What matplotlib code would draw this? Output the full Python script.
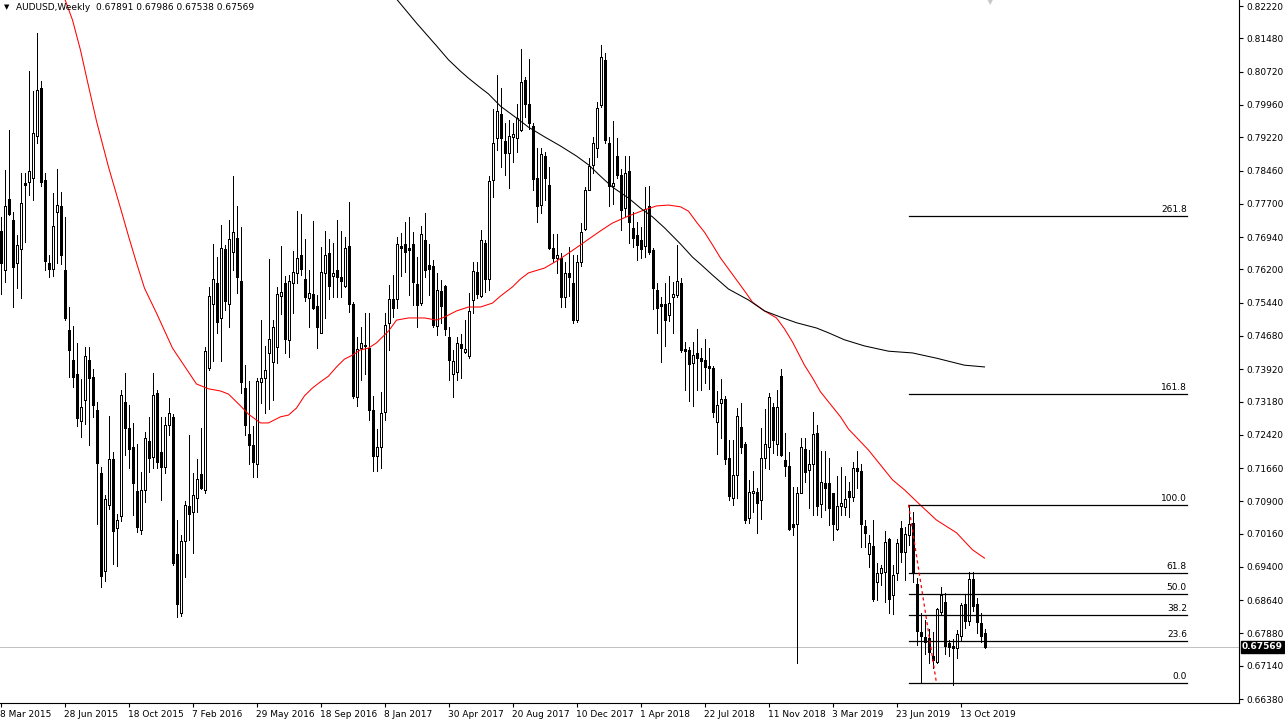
import numpy as np
import pandas as pd
import matplotlib
matplotlib.use("Agg")
import matplotlib.pyplot as plt
from matplotlib.patches import Rectangle
import matplotlib.transforms as mtransforms

# ---------------- data ----------------
start_date = "2015-03-08"
n_bars = 247

opens = [
    0.7707, 0.7619, 0.7780, 0.7734, 0.7635, 0.7666, 0.7818, 0.7820, 0.7830, 0.7925,
    0.8035, 0.7824, 0.7635, 0.7621, 0.7752, 0.7764, 0.7619, 0.7482, 0.7413, 0.7382,
    0.7274, 0.7322, 0.7413, 0.7375, 0.7299, 0.7154, 0.6930, 0.7081, 0.7186, 0.7030,
    0.7056, 0.7317, 0.7257, 0.7213, 0.7113, 0.7024, 0.7116, 0.7228, 0.7192, 0.7337,
    0.7202, 0.7168, 0.7264, 0.7282, 0.6969, 0.6834, 0.6999, 0.7080, 0.7066, 0.7097,
    0.7152, 0.7116, 0.7394, 0.7542, 0.7590, 0.7508, 0.7666, 0.7542, 0.7660, 0.7691,
    0.7593, 0.7350, 0.7244, 0.7219, 0.7175, 0.7363, 0.7371, 0.7430, 0.7409, 0.7443,
    0.7560, 0.7590, 0.7458, 0.7590, 0.7611, 0.7652, 0.7597, 0.7555, 0.7563, 0.7536,
    0.7475, 0.7611, 0.7657, 0.7605, 0.7619, 0.7603, 0.7582, 0.7673, 0.7540, 0.7328,
    0.7440, 0.7447, 0.7440, 0.7299, 0.7193, 0.7213, 0.7295, 0.7498, 0.7553, 0.7552,
    0.7673, 0.7678, 0.7668, 0.7678, 0.7587, 0.7543, 0.7687, 0.7630, 0.7628, 0.7491,
    0.7571, 0.7582, 0.7466, 0.7382, 0.7386, 0.7450, 0.7432, 0.7421, 0.7550, 0.7615,
    0.7559, 0.7681, 0.7597, 0.7824, 0.7920, 0.7975, 0.7914, 0.7887, 0.7922, 0.7920,
    0.7939, 0.8053, 0.7998, 0.7948, 0.7828, 0.7767, 0.7879, 0.7814, 0.7668, 0.7645,
    0.7645, 0.7556, 0.7611, 0.7588, 0.7504, 0.7638, 0.7712, 0.7801, 0.7859, 0.7897,
    0.7996, 0.8099, 0.7908, 0.7811, 0.7880, 0.7836, 0.7760, 0.7846, 0.7714, 0.7698,
    0.7687, 0.7674, 0.7765, 0.7664, 0.7573, 0.7540, 0.7540, 0.7516, 0.7556, 0.7562,
    0.7590, 0.7437, 0.7436, 0.7407, 0.7430, 0.7417, 0.7413, 0.7399, 0.7394, 0.7272,
    0.7314, 0.7323, 0.7188, 0.7097, 0.7149, 0.7259, 0.7222, 0.7051, 0.7108, 0.7111,
    0.7093, 0.7188, 0.7213, 0.7305, 0.7222, 0.7376, 0.7184, 0.7171, 0.7038, 0.7037,
    0.7109, 0.7209, 0.7162, 0.7175, 0.7247, 0.7083, 0.7131, 0.7131, 0.7108, 0.7026,
    0.7079, 0.7077, 0.7114, 0.7099, 0.7165, 0.7160, 0.7033, 0.6970, 0.6988, 0.6906,
    0.6925, 0.6928, 0.7003, 0.6876, 0.6927, 0.7028, 0.6973, 0.7013, 0.7040, 0.6902,
    0.6792, 0.6779, 0.6777, 0.6736, 0.6723, 0.6838, 0.6859, 0.6767, 0.6760, 0.6754,
    0.6783, 0.6855, 0.6817, 0.6912, 0.6855, 0.6811, 0.67891,
]

highs = [
    0.7740, 0.7847, 0.7938, 0.7751, 0.7698, 0.7841, 0.7840, 0.8074, 0.8028, 0.8161,
    0.8051, 0.7840, 0.7652, 0.7795, 0.7850, 0.7797, 0.7740, 0.7535, 0.7490, 0.7451,
    0.7369, 0.7442, 0.7442, 0.7392, 0.7316, 0.7169, 0.7104, 0.7284, 0.7203, 0.7060,
    0.7345, 0.7383, 0.7309, 0.7268, 0.7222, 0.7156, 0.7249, 0.7283, 0.7384, 0.7344,
    0.7283, 0.7283, 0.7325, 0.7290, 0.7047, 0.7013, 0.7090, 0.7241, 0.7154, 0.7187,
    0.7257, 0.7443, 0.7580, 0.7678, 0.7648, 0.7721, 0.7676, 0.7734, 0.7833, 0.7765,
    0.7718, 0.7401, 0.7365, 0.7261, 0.7371, 0.7504, 0.7445, 0.7644, 0.7504, 0.7580,
    0.7673, 0.7605, 0.7607, 0.7663, 0.7753, 0.7747, 0.7689, 0.7619, 0.7731, 0.7561,
    0.7672, 0.7708, 0.7689, 0.7680, 0.7733, 0.7708, 0.7695, 0.7775, 0.7545, 0.7466,
    0.7489, 0.7520, 0.7521, 0.7330, 0.7255, 0.7340, 0.7520, 0.7585, 0.7607, 0.7695,
    0.7703, 0.7729, 0.7739, 0.7705, 0.7649, 0.7720, 0.7748, 0.7678, 0.7641, 0.7611,
    0.7596, 0.7585, 0.7489, 0.7436, 0.7466, 0.7472, 0.7504, 0.7567, 0.7638, 0.7638,
    0.7710, 0.7687, 0.7833, 0.7986, 0.8064, 0.8034, 0.7954, 0.7962, 0.7954, 0.7999,
    0.8123, 0.8060, 0.8100, 0.7955, 0.7897, 0.7897, 0.7888, 0.7855, 0.7702, 0.7702,
    0.7657, 0.7638, 0.7672, 0.7653, 0.7653, 0.7725, 0.7809, 0.7874, 0.7922, 0.8003,
    0.8133, 0.8115, 0.7923, 0.7960, 0.7920, 0.7850, 0.7880, 0.7880, 0.7752, 0.7729,
    0.7718, 0.7808, 0.7811, 0.7668, 0.7588, 0.7558, 0.7588, 0.7605, 0.7592, 0.7676,
    0.7600, 0.7455, 0.7443, 0.7455, 0.7483, 0.7440, 0.7460, 0.7440, 0.7400, 0.7341,
    0.7370, 0.7330, 0.7230, 0.7229, 0.7303, 0.7314, 0.7225, 0.7139, 0.7159, 0.7120,
    0.7257, 0.7300, 0.7337, 0.7314, 0.7344, 0.7392, 0.7245, 0.7203, 0.7123, 0.7123,
    0.7234, 0.7234, 0.7207, 0.7295, 0.7264, 0.7206, 0.7206, 0.7190, 0.7110, 0.7148,
    0.7168, 0.7148, 0.7135, 0.7180, 0.7206, 0.7175, 0.7047, 0.7013, 0.7047, 0.6948,
    0.6944, 0.7022, 0.7005, 0.6944, 0.7003, 0.7045, 0.7032, 0.7081, 0.7066, 0.6914,
    0.6834, 0.6819, 0.6797, 0.6792, 0.6845, 0.6893, 0.6881, 0.6773, 0.6775, 0.6796,
    0.6857, 0.6878, 0.6929, 0.6929, 0.6868, 0.6834, 0.67986,
]

lows = [
    0.7564, 0.7591, 0.7745, 0.7535, 0.7577, 0.7554, 0.7683, 0.7791, 0.7778, 0.7908,
    0.7810, 0.7619, 0.7602, 0.7606, 0.7635, 0.7633, 0.7505, 0.7375, 0.7351, 0.7263,
    0.7236, 0.7266, 0.7219, 0.7282, 0.7039, 0.6895, 0.6908, 0.7072, 0.6946, 0.6942,
    0.7045, 0.7195, 0.7166, 0.7059, 0.7020, 0.7015, 0.7089, 0.7158, 0.7165, 0.7165,
    0.7093, 0.7154, 0.7241, 0.6944, 0.6826, 0.6828, 0.6918, 0.7001, 0.6971, 0.7066,
    0.7117, 0.7108, 0.7390, 0.7411, 0.7474, 0.7411, 0.7527, 0.7489, 0.7619, 0.7567,
    0.7337, 0.7241, 0.7175, 0.7146, 0.7146, 0.7314, 0.7291, 0.7300, 0.7321, 0.7405,
    0.7518, 0.7428, 0.7420, 0.7520, 0.7588, 0.7607, 0.7548, 0.7488, 0.7529, 0.7440,
    0.7474, 0.7508, 0.7552, 0.7558, 0.7558, 0.7556, 0.7580, 0.7523, 0.7326, 0.7308,
    0.7367, 0.7382, 0.7276, 0.7160, 0.7160, 0.7165, 0.7276, 0.7435, 0.7512, 0.7531,
    0.7605, 0.7615, 0.7562, 0.7539, 0.7489, 0.7539, 0.7603, 0.7562, 0.7489, 0.7470,
    0.7497, 0.7470, 0.7367, 0.7329, 0.7367, 0.7371, 0.7428, 0.7417, 0.7520, 0.7554,
    0.7558, 0.7569, 0.7573, 0.7786, 0.7893, 0.7855, 0.7836, 0.7805, 0.7866, 0.7889,
    0.7937, 0.7969, 0.7940, 0.7801, 0.7729, 0.7748, 0.7779, 0.7666, 0.7638, 0.7611,
    0.7535, 0.7535, 0.7560, 0.7497, 0.7500, 0.7628, 0.7710, 0.7801, 0.7840, 0.7876,
    0.7992, 0.7910, 0.7765, 0.7770, 0.7830, 0.7710, 0.7741, 0.7680, 0.7672, 0.7642,
    0.7645, 0.7649, 0.7655, 0.7529, 0.7474, 0.7409, 0.7445, 0.7501, 0.7474, 0.7558,
    0.7432, 0.7344, 0.7320, 0.7308, 0.7344, 0.7344, 0.7360, 0.7346, 0.7283, 0.7199,
    0.7234, 0.7175, 0.7093, 0.7082, 0.7097, 0.7200, 0.7040, 0.7040, 0.7066, 0.7018,
    0.7049, 0.7165, 0.7163, 0.7200, 0.7196, 0.7193, 0.7148, 0.7024, 0.7013, 0.6721,
    0.7108, 0.7133, 0.7074, 0.7059, 0.7059, 0.7055, 0.7070, 0.7036, 0.7001, 0.7024,
    0.7059, 0.7059, 0.7055, 0.7090, 0.7120, 0.6986, 0.6986, 0.6940, 0.6863, 0.6864,
    0.6899, 0.6860, 0.6834, 0.6832, 0.6910, 0.6952, 0.6910, 0.6990, 0.6906, 0.6761,
    0.6675, 0.6742, 0.6721, 0.6708, 0.6721, 0.6830, 0.6740, 0.6736, 0.6670, 0.6731,
    0.6770, 0.6800, 0.6807, 0.6840, 0.6790, 0.6769, 0.67538,
]

closes = [
    0.7635, 0.7764, 0.7746, 0.7625, 0.7676, 0.7772, 0.7812, 0.7845, 0.7931, 0.8029,
    0.7820, 0.7640, 0.7621, 0.7719, 0.7767, 0.7652, 0.7509, 0.7436, 0.7375, 0.7280,
    0.7305, 0.7423, 0.7371, 0.7309, 0.7177, 0.6920, 0.7095, 0.7186, 0.7022, 0.7047,
    0.7332, 0.7257, 0.7209, 0.7132, 0.7032, 0.7116, 0.7234, 0.7188, 0.7334, 0.7180,
    0.7169, 0.7264, 0.7291, 0.6948, 0.6855, 0.6999, 0.7081, 0.7062, 0.7104, 0.7142,
    0.7121, 0.7434, 0.7559, 0.7598, 0.7500, 0.7670, 0.7548, 0.7690, 0.7705, 0.7602,
    0.7363, 0.7264, 0.7219, 0.7180, 0.7366, 0.7371, 0.7389, 0.7462, 0.7488, 0.7563,
    0.7569, 0.7460, 0.7594, 0.7613, 0.7645, 0.7622, 0.7556, 0.7567, 0.7532, 0.7488,
    0.7615, 0.7653, 0.7583, 0.7611, 0.7602, 0.7594, 0.7668, 0.7541, 0.7330, 0.7437,
    0.7451, 0.7445, 0.7299, 0.7193, 0.7213, 0.7291, 0.7493, 0.7553, 0.7531, 0.7678,
    0.7668, 0.7659, 0.7664, 0.7592, 0.7539, 0.7701, 0.7619, 0.7622, 0.7493, 0.7573,
    0.7536, 0.7483, 0.7413, 0.7411, 0.7451, 0.7440, 0.7437, 0.7526, 0.7617, 0.7564,
    0.7687, 0.7598, 0.7821, 0.7908, 0.7982, 0.7920, 0.7887, 0.7924, 0.7929, 0.7967,
    0.8049, 0.7998, 0.7955, 0.7826, 0.7766, 0.7883, 0.7828, 0.7670, 0.7645, 0.7654,
    0.7556, 0.7611, 0.7603, 0.7504, 0.7638, 0.7706, 0.7801, 0.7856, 0.7910, 0.7988,
    0.8105, 0.7916, 0.7810, 0.7817, 0.7836, 0.7756, 0.7841, 0.7729, 0.7691, 0.7676,
    0.7667, 0.7757, 0.7660, 0.7577, 0.7531, 0.7536, 0.7504, 0.7543, 0.7564, 0.7594,
    0.7436, 0.7434, 0.7403, 0.7424, 0.7417, 0.7411, 0.7396, 0.7394, 0.7295, 0.7310,
    0.7323, 0.7186, 0.7101, 0.7150, 0.7285, 0.7215, 0.7047, 0.7111, 0.7114, 0.7085,
    0.7188, 0.7220, 0.7328, 0.7230, 0.7305, 0.7196, 0.7171, 0.7026, 0.7032, 0.7110,
    0.7213, 0.7158, 0.7175, 0.7244, 0.7080, 0.7135, 0.7121, 0.7074, 0.7038, 0.7079,
    0.7085, 0.7095, 0.7099, 0.7165, 0.7160, 0.7037, 0.7018, 0.6994, 0.6866, 0.6925,
    0.6937, 0.6996, 0.6866, 0.6921, 0.6995, 0.6973, 0.7015, 0.7037, 0.6925, 0.6794,
    0.6781, 0.6769, 0.6746, 0.6727, 0.6843, 0.6876, 0.6759, 0.6758, 0.6755, 0.6787,
    0.6853, 0.6817, 0.6912, 0.6851, 0.6815, 0.6781, 0.67569,
]

# moving averages (bar index, price)
ma_red_idx = [14, 16, 18, 20, 22, 24, 27, 30, 32, 34, 36, 39, 43, 46, 49, 52, 55, 57,
              60, 62, 65, 67, 70, 72, 74, 76, 78, 80, 82, 84, 86, 88, 90, 92, 94, 97,
              99, 102, 106, 109, 111, 114, 117, 120, 123, 125, 128, 130, 132, 136,
              139, 142, 145, 147, 150, 153, 157, 161, 164, 167, 170, 172, 174, 176,
              178, 180, 182, 184, 186, 188, 191, 194, 196, 198, 201, 203, 205, 210,
              212, 217, 223, 226, 230, 234, 239, 243, 246]
ma_red_val = [0.8300, 0.8240, 0.8190, 0.8121, 0.8039, 0.7959, 0.7854, 0.7760, 0.7696,
              0.7635, 0.7577, 0.7520, 0.7440, 0.7399, 0.7358, 0.7347, 0.7342, 0.7335,
              0.7308, 0.7289, 0.7269, 0.7269, 0.7283, 0.7287, 0.7303, 0.7331, 0.7349,
              0.7363, 0.7376, 0.7397, 0.7415, 0.7424, 0.7436, 0.7440, 0.7452, 0.7479,
              0.7504, 0.7509, 0.7509, 0.7504, 0.7511, 0.7525, 0.7534, 0.7534, 0.7543,
              0.7559, 0.7580, 0.7598, 0.7612, 0.7623, 0.7639, 0.7657, 0.7676, 0.7689,
              0.7708, 0.7726, 0.7742, 0.7756, 0.7765, 0.7767, 0.7763, 0.7753, 0.7728,
              0.7705, 0.7676, 0.7646, 0.7621, 0.7596, 0.7571, 0.7545, 0.7525, 0.7509,
              0.7484, 0.7454, 0.7401, 0.7372, 0.7340, 0.7283, 0.7255, 0.7207, 0.7139,
              0.7116, 0.7081, 0.7047, 0.7018, 0.6979, 0.6960]

ma_black_idx = [98, 99, 104, 109, 112, 115, 117, 120, 122, 125, 129, 132, 136, 140, 144,
                147, 150, 153, 157, 160, 163, 166, 170, 173, 175, 178, 182, 187, 191,
                195, 199, 204, 207, 211, 216, 222, 228, 234, 241, 246]
ma_black_val = [0.8260, 0.8238, 0.8183, 0.8131, 0.8099, 0.8073, 0.8057, 0.8035, 0.8021,
                0.7993, 0.7966, 0.7945, 0.7923, 0.7902, 0.7879, 0.7859, 0.7833, 0.7808,
                0.7783, 0.7760, 0.7740, 0.7715, 0.7678, 0.7648, 0.7632, 0.7607, 0.7575,
                0.7550, 0.7525, 0.7511, 0.7498, 0.7486, 0.7475, 0.7459, 0.7445, 0.7433,
                0.7429, 0.7417, 0.7401, 0.7397]

fib_levels = [0.0, 23.6, 38.2, 50.0, 61.8, 100.0, 161.8, 261.8]
fib_low = 0.6674
fib_high = 0.7082
fib_start_bar = 227
fib_low_bar = 234
fib_end_bar = 296.6

price_ticks = [0.82220, 0.81480, 0.80720, 0.79960, 0.79220, 0.78460, 0.77700, 0.76940,
               0.76200, 0.75440, 0.74680, 0.73920, 0.73180, 0.72420, 0.71660, 0.70900,
               0.70160, 0.69400, 0.68640, 0.67880, 0.67140, 0.66380]
date_tick_step = 16
header = "AUDUSD,Weekly  0.67891 0.67986 0.67538 0.67569"
last_price = 0.67569

# ---------------- figure ----------------
W, H = 1285, 725
fig = plt.figure(figsize=(W / 100, H / 100), dpi=100)
fig.patch.set_facecolor("white")
ax_right_px = 1239
ax_bottom_px = 703
ax = fig.add_axes([0, 1 - ax_bottom_px / H, ax_right_px / W, ax_bottom_px / H])
ax.set_facecolor("white")

px_per_bar = 4.0
ax.set_xlim(-0.5 / px_per_bar, (ax_right_px - 0.5) / px_per_bar)
k = 0.00022857
ax.set_ylim(0.8222 - (ax_bottom_px - 6) * k, 0.8222 + 6 * k)

for s in ["top", "left"]:
    ax.spines[s].set_visible(False)
for s in ["right", "bottom"]:
    ax.spines[s].set_color("black")
    ax.spines[s].set_linewidth(0.8)

# current price line
ax.axhline(last_price, color="#c0c0c0", lw=0.7, zorder=1)

# candles
LW = 0.6
idx = np.arange(n_bars)
o = np.array(opens); h = np.array(highs); l = np.array(lows); c = np.array(closes)
ax.vlines(idx, l, h, color="black", lw=LW, zorder=2, antialiased=False)
bw = 0.5
for i in idx:
    bot = min(o[i], c[i]); top = max(o[i], c[i])
    bull = c[i] > o[i]
    hgt = max(top - bot, 0.00001)
    ax.add_patch(Rectangle((i - bw / 2, bot), bw, hgt,
                           facecolor="white" if bull else "black",
                           edgecolor="black", lw=LW, zorder=3, antialiased=False))

# moving averages
ax.plot(ma_red_idx, ma_red_val, color="#ff0000", lw=0.75, zorder=4)
ax.plot(ma_black_idx, ma_black_val, color="black", lw=0.75, zorder=4)

# fibonacci
rng = fib_high - fib_low
for lv in fib_levels:
    yv = fib_low + rng * lv / 100.0
    ax.plot([fib_start_bar, fib_end_bar], [yv, yv], color="black", lw=0.9, zorder=5)
    ax.annotate(f"{lv:.1f}", xy=(fib_end_bar, yv), xytext=(0, 1.5),
                textcoords="offset points", ha="right", va="bottom",
                fontsize=6.5, color="black", zorder=6)
ax.plot([fib_start_bar, fib_low_bar], [fib_high, fib_low], color="#ff0000",
        lw=0.9, ls=(0, (2.5, 2.5)), zorder=5)

# axes ticks
ax.yaxis.tick_right()
ax.set_yticks(price_ticks)
ax.set_yticklabels([f"{v:.5f}" for v in price_ticks])
ax.tick_params(axis="y", direction="out", length=3, width=0.8, pad=2,
               labelsize=6.5, colors="black")

dates = pd.date_range(start_date, periods=n_bars, freq="7D")
tick_idx = list(range(0, n_bars, date_tick_step))
ax.set_xticks(tick_idx)
ax.set_xticklabels([f"{dates[t].day} {dates[t].strftime('%b %Y')}" for t in tick_idx])
ax.tick_params(axis="x", direction="out", length=3, width=0.8, pad=2,
               labelsize=6.5, colors="black")
for lbl in ax.get_xticklabels():
    lbl.set_horizontalalignment("left")

# current price box
trans = mtransforms.blended_transform_factory(ax.transAxes, ax.transData)
ax.text(1.0 + 3 / ax_right_px, last_price, f"{last_price:.5f}", transform=trans,
        ha="left", va="center", fontsize=6.5, color="white", fontweight="bold",
        bbox=dict(boxstyle="square,pad=0.15", facecolor="black", edgecolor="black"),
        zorder=10, clip_on=False)

# header
fig.text(4 / W, 1 - 7 / H, "\u25BC", fontsize=5, va="center", ha="left", color="black")
fig.text(16 / W, 1 - 7 / H, header, fontsize=6.5, va="center", ha="left", color="black")

# chart-shift marker
fig.text(990 / W, 1 - 2 / H, "\u25BC", fontsize=6, va="center", ha="center",
         color="#c8c8c8")

fig.savefig("out.png", dpi=100, facecolor="white")
